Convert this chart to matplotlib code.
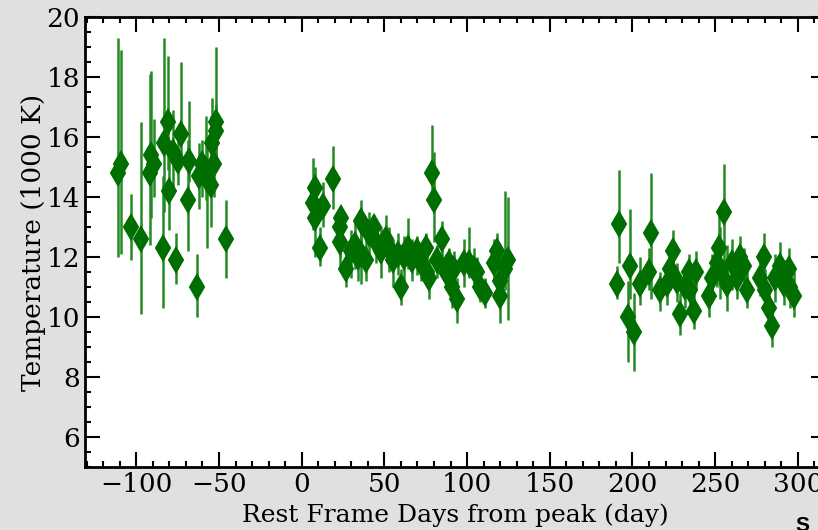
import numpy as np
import matplotlib
matplotlib.use('Agg')
from matplotlib import pyplot as plt
from matplotlib.ticker import MultipleLocator

"""Data: days from peak, temperature (1000 K), lower / upper end of error bar
"""
# early epoch
days_a = [-111, -109, -103, -97, -92, -91, -89, -84, -83, -81, -80, -78, -76, -75,
          -73, -69, -68, -63, -62, -60, -58, -57, -55, -54, -53, -52, -52, -46]
temp_a = [14.8, 15.1, 13.0, 12.6, 14.8, 15.4, 15.1, 12.3, 15.8, 16.5, 14.2, 15.5, 11.9, 15.2,
          16.1, 13.9, 15.2, 11.0, 14.7, 15.1, 14.9, 14.6, 14.4, 15.8, 15.1, 16.2, 16.5, 12.6]
low_a = [12.0, 12.1, 11.9, 10.1, 12.4, 13.3, 14.0, 10.3, 13.5, 14.9, 12.9, 14.1, 11.1, 14.4,
         15.3, 12.2, 14.5, 10.0, 13.6, 14.0, 13.9, 12.3, 13.0, 14.2, 14.0, 15.0, 15.3, 11.3]
high_a = [19.3, 18.9, 14.1, 16.5, 18.1, 18.2, 16.6, 14.7, 19.3, 18.7, 15.6, 16.9, 12.8, 16.0,
          18.5, 15.9, 17.2, 12.1, 15.8, 15.9, 16.7, 16.0, 16.7, 17.3, 16.3, 17.1, 19.0, 13.9]

# middle epoch
days_b = [7, 8, 8, 11, 13, 19, 23, 23, 24, 27, 30, 32, 34, 36, 36, 39, 41, 44, 45, 48,
          51, 53, 55, 58, 60, 62, 64, 67, 70, 72, 75, 76, 77, 79, 80, 82, 85, 87, 89, 91,
          92, 94, 98, 101, 104, 106, 108, 111, 116, 118, 120, 120, 123, 125]
temp_b = [13.8, 14.3, 13.3, 12.3, 13.7, 14.6, 13.0, 12.5, 13.3, 11.6, 12.2, 12.4, 12.0, 13.2,
          12.1, 11.9, 12.8, 13.0, 12.5, 12.2, 12.6, 12.3, 11.9, 12.1, 11.0, 12.0, 12.3, 11.9,
          12.2, 11.8, 12.3, 11.5, 11.3, 14.8, 13.9, 11.9, 12.6, 11.5, 11.8, 11.0, 11.6, 10.6,
          11.8, 11.8, 11.6, 11.5, 11.0, 10.8, 11.8, 12.2, 11.2, 10.7, 11.6, 11.9]
low_b = [12.9, 13.4, 12.0, 11.7, 13.0, 13.6, 12.0, 11.6, 12.5, 11.0, 11.3, 11.6, 11.2, 12.4,
         11.1, 11.2, 12.0, 12.3, 11.8, 11.3, 12.0, 11.5, 11.0, 11.4, 10.4, 11.2, 11.6, 11.2,
         11.4, 11.2, 11.5, 11.0, 10.6, 13.6, 12.5, 11.3, 11.9, 10.9, 11.2, 10.3, 10.9, 9.8,
         11.0, 11.3, 11.0, 10.8, 10.5, 10.3, 11.2, 11.6, 10.5, 9.8, 10.9, 9.9]
high_b = [15.3, 15.0, 14.1, 13.0, 14.5, 15.7, 13.6, 13.3, 13.7, 12.4, 12.9, 13.2, 12.6, 13.9,
          12.9, 12.9, 13.5, 13.4, 13.2, 13.0, 13.4, 13.0, 12.6, 12.8, 11.6, 12.7, 13.3, 12.6,
          12.7, 12.4, 12.8, 12.2, 11.9, 16.4, 15.5, 12.4, 13.2, 12.1, 12.3, 11.6, 12.2, 11.3,
          12.6, 13.0, 12.3, 12.0, 11.7, 11.3, 12.6, 12.8, 11.9, 11.5, 14.2, 14.0]

# late epoch
days_c = [190.6, 192, 197, 198.7, 200.7, 204.3, 209.8, 211.4, 216.8, 220.8, 222.9, 224.5,
          226.9, 228.9, 231.9, 233.9, 235, 237, 238.6, 246, 248.1, 251.1, 252.1, 253.1,
          255.1, 257.2, 260.2, 263.2, 265.2, 267.2, 269.3, 277.3, 279.3, 280.3, 282.3,
          284.4, 286.4, 289.4, 291.4, 294.4, 295, 297.4]
temp_c = [11.1, 13.1, 10.0, 11.7, 9.5, 11.1, 11.5, 12.8, 10.9, 11.1, 11.6, 12.2,
          11.2, 10.1, 11.0, 11.5, 10.9, 10.2, 11.5, 10.7, 11.3, 11.8, 12.3, 11.6,
          13.5, 11.1, 11.8, 11.3, 12.0, 11.7, 10.9, 11.3, 12.0, 10.9, 10.3,
          9.7, 11.3, 11.7, 11.1, 11.6, 11.0, 10.7]
low_c = [10.6, 11.8, 8.5, 10.6, 8.2, 10.4, 10.9, 10.6, 10.2, 10.4, 10.9, 11.4,
         10.5, 9.4, 10.3, 10.8, 10.2, 9.6, 10.9, 10.0, 10.6, 11.0, 11.5, 10.6,
         11.8, 10.2, 10.9, 10.6, 11.1, 10.8, 10.3, 10.7, 11.2, 10.2, 9.6,
         9.0, 10.5, 10.9, 10.4, 10.9, 10.3, 10.0]
high_c = [11.7, 14.9, 11.2, 13.6, 10.8, 12.0, 12.3, 14.8, 11.5, 11.8, 12.2, 12.9,
          11.8, 10.8, 11.7, 12.1, 11.6, 10.9, 12.2, 11.4, 12.1, 12.6, 13.4, 13.0,
          15.1, 12.4, 12.6, 12.1, 12.7, 12.3, 11.6, 12.0, 12.8, 11.6, 11.1,
          10.4, 12.1, 12.5, 11.9, 12.3, 11.8, 11.5]

days = np.array(days_a + days_b + days_c, dtype=float)
temp = np.array(temp_a + temp_b + temp_c)
low = np.array(low_a + low_b + low_c)
high = np.array(high_a + high_b + high_c)
yerr = [temp - low, high - temp]

"""Plot
"""
plt.rcParams['font.family'] = 'DejaVu Serif'
plt.rcParams['mathtext.fontset'] = 'dejavuserif'

f = plt.figure(figsize=(8.18, 5.30), dpi=100, facecolor='#e0e0e0')
ax = f.add_axes([85 / 818, 63 / 530, 741 / 818, 450 / 530])
ax.set_facecolor('white')

ax.errorbar(days, temp, yerr=yerr, fmt='d', color='#006e00', ecolor='#228b22',
            elinewidth=1.8, markersize=12, markeredgewidth=1.5, capsize=0)

ax.set_xlim(-131, 317)
ax.set_ylim(5, 20)
ax.xaxis.set_major_locator(MultipleLocator(50))
ax.xaxis.set_minor_locator(MultipleLocator(10))
ax.yaxis.set_major_locator(MultipleLocator(2))
ax.yaxis.set_minor_locator(MultipleLocator(0.5))
ax.tick_params(which='both', direction='in', top=True, right=True, labelsize=19, width=1.5)
ax.tick_params(which='major', length=10.5)
ax.tick_params(which='minor', length=4)
for s in ax.spines.values():
    s.set_linewidth(2)

ax.set_xlabel('Rest Frame Days from peak (day)', fontsize=18, labelpad=4.5)
ax.set_ylabel('Temperature (1000 K)', fontsize=19, labelpad=0.5)

f.text(795 / 818, 1 - 516 / 530, 'S', fontsize=15, fontweight='bold',
       family='Liberation Sans', va='top', ha='left')

f.savefig('out.png', dpi=100, facecolor=f.get_facecolor())
